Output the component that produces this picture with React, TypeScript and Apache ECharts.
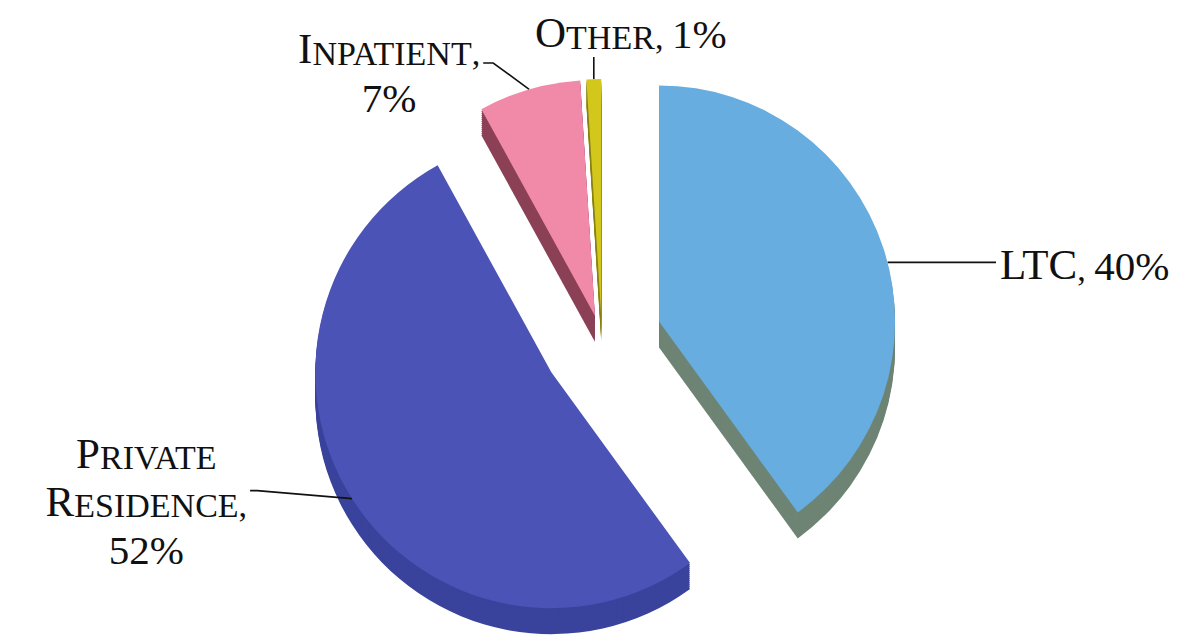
import React, { useEffect, useRef } from 'react';
import * as echarts from 'echarts';

// ---- data ----
const categories = ['LTC', 'Private Residence', 'Inpatient', 'Other'];
const values = [40, 52, 7, 1];
const topColors = ['#68ade0', '#4b54b6', '#f189a8', '#d3c71c'];
const sideColors = ['#6e8474', '#3a439c', '#8b4156', '#8a8414'];
const explodeOffset = [60, 60, 25, 25];
const stackedLabel = [false, true, true, false];
const labelPlacement = ['right', 'leftUp', 'upLeft', 'up'];

// ---- layout / style ----
const CX = 602;
const CY = 340;
const R = 236;
const DEPTH = 26;
const STEP = 2;
const FONT = 'Liberation Serif';

const total = values.reduce((a, b) => a + b, 0);

function midAngle(i: number) {
  let cum = 0;
  for (let k = 0; k < i; k++) cum += values[k];
  const start = 90 - (360 * cum) / total;
  return start - (180 * values[i]) / total;
}

function capsWord(w: string) {
  if (w === w.toUpperCase()) return `{b|${w}}`;
  return `{b|${w[0].toUpperCase()}}{s|${w.slice(1).toUpperCase()}}`;
}

function labelText(i: number) {
  const words = categories[i].split(' ');
  const pct = `{n|${Math.round((values[i] / total) * 100)}%}`;
  if (stackedLabel[i]) {
    return words.map((w, j) => capsWord(w) + (j === words.length - 1 ? '{s|,}' : '')).join('\n') + '\n' + pct;
  }
  return words.map(capsWord).join(' ') + '{s|, }' + pct;
}

const rich = {
  b: { fontSize: 43, fontFamily: FONT, color: '#111', lineHeight: 48, verticalAlign: 'bottom' },
  s: { fontSize: 34, fontFamily: FONT, color: '#111', lineHeight: 48, verticalAlign: 'bottom' },
  n: { fontSize: 41, fontFamily: FONT, color: '#111', lineHeight: 48, verticalAlign: 'bottom' },
};

function makeLayout(i: number) {
  return (p: any) => {
    const pts = p.labelLinePoints;
    if (!pts || !pts.length) return {};
    const a = pts[0];
    const w = p.labelRect.width;
    const place = labelPlacement[i];
    if (place === 'right') {
      // anchor slightly lower on the same arc
      const m = (midAngle(i) * Math.PI) / 180;
      const c = [a[0] - R * Math.cos(m), a[1] + R * Math.sin(m)];
      const m2 = m - (3.5 * Math.PI) / 180;
      const a2 = [c[0] + R * Math.cos(m2), c[1] - R * Math.sin(m2)];
      const e = [996, a2[1]];
      return { x: e[0] + 4, y: e[1], align: 'left', verticalAlign: 'middle', labelLinePoints: [a2, e] };
    }
    if (place === 'leftUp') {
      const e = [a[0] - 95, a[1] - 8];
      const e2 = [e[0] - 7, e[1]];
      return { x: e2[0] - 3 - w / 2, y: e2[1] + 8, align: 'center', verticalAlign: 'middle', labelLinePoints: [a, e, e2] };
    }
    if (place === 'upLeft') {
      const e = [a[0] - 36, 63];
      const e2 = [e[0] - 10, 63];
      return { x: e2[0] - 3 - w / 2, y: 22, align: 'center', verticalAlign: 'top', labelLinePoints: [a, e, e2] };
    }
    const e = [a[0], 57];
    return { x: e[0] + 37, y: 54, align: 'center', verticalAlign: 'bottom', labelLinePoints: [a, e] };
  };
}

function buildSeries() {
  const series: any[] = [];
  const layers: number[] = [];
  for (let d = DEPTH; d >= STEP; d -= STEP) layers.push(d);
  layers.push(0);
  layers.forEach((d, li) => {
    categories.forEach((_, i) => {
      const isTop = d === 0;
      const m = (midAngle(i) * Math.PI) / 180;
      const cx = CX + explodeOffset[i] * Math.cos(m);
      const cy = CY - explodeOffset[i] * Math.sin(m) + d;
      series.push({
        type: 'pie',
        z: 2 + li,
        silent: true,
        center: [cx, cy],
        radius: [0, R],
        startAngle: 90,
        clockwise: true,
        avoidLabelOverlap: false,
        emphasis: { disabled: true },
        label: isTop
          ? {
              show: true,
              position: 'outside',
              formatter: (p: any) => labelText(p.dataIndex),
              rich,
              fontFamily: FONT,
              color: '#111',
            }
          : { show: false },
        labelLine: isTop
          ? { show: true, length: 20, length2: 10, lineStyle: { color: '#111', width: 1.6 } }
          : { show: false },
        labelLayout: isTop ? makeLayout(i) : undefined,
        data: categories.map((name, k) => {
          const mine = k === i;
          return {
            name,
            value: values[k],
            itemStyle: {
              color: mine ? (isTop ? topColors[k] : sideColors[k]) : 'rgba(0,0,0,0)',
              borderWidth: 0,
            },
            label: { show: isTop && mine },
            labelLine: { show: isTop && mine },
          };
        }),
      });
    });
  });
  return series;
}

export default function App() {
  const ref = useRef<HTMLDivElement>(null);
  useEffect(() => {
    document.body.style.margin = '0';
    if (!ref.current) return;
    const chart = echarts.init(ref.current, undefined, { renderer: 'svg' });
    chart.setOption({
      animation: false,
      backgroundColor: '#ffffff',
      series: buildSeries(),
    });
    return () => chart.dispose();
  }, []);
  return <div ref={ref} style={{ width: 1192, height: 639 }} />;
}
